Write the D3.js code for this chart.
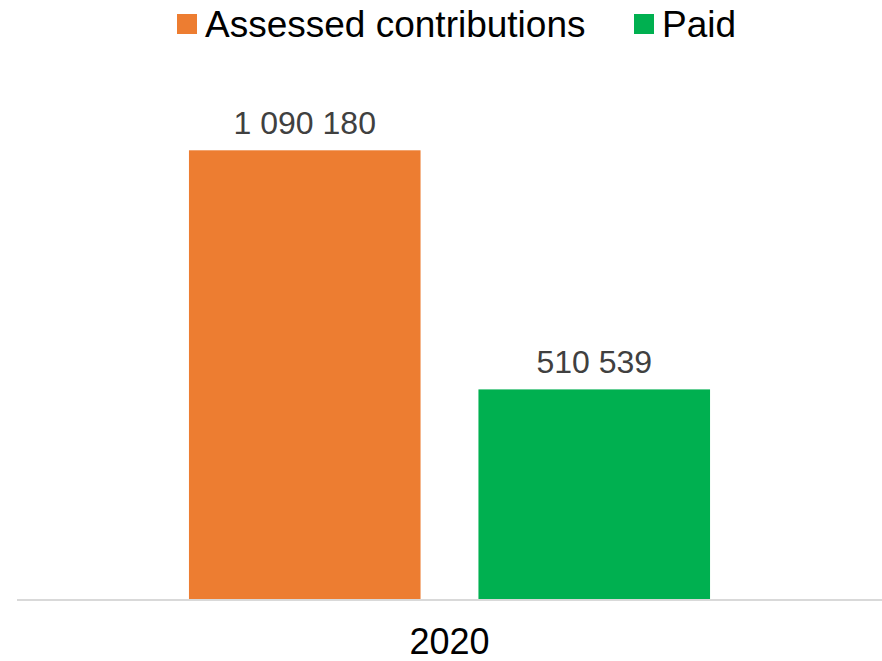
<!DOCTYPE html>
<html>
<head>
<meta charset="utf-8">
<script src="https://cdn.jsdelivr.net/npm/d3@7"></script>
<style>
  html, body { margin: 0; padding: 0; background: #fff; }
  svg { display: block; font-family: "Liberation Sans", Arial, sans-serif; }
</style>
</head>
<body>
<svg id="chart" width="882" height="661"></svg>
<script>
// Chart data
const categories = ["2020"];
const seriesNames = ["Assessed contributions", "Paid"];
const seriesColors = ["#ED7D31", "#00B050"];
const assessedValues = [1090180];
const paidValues = [510539];

const rows = categories.map((c, i) => ({
  category: c,
  values: [
    { name: seriesNames[0], value: assessedValues[i], color: seriesColors[0] },
    { name: seriesNames[1], value: paidValues[i], color: seriesColors[1] }
  ]
}));

const svg = d3.select("#chart");
const plot = { left: 17, right: 882, top: 105, bottom: 600 };

const x0 = d3.scaleBand()
  .domain(categories)
  .range([plot.left, plot.right])
  .paddingInner(0)
  .paddingOuter(0.33);

const x1 = d3.scaleBand()
  .domain(seriesNames)
  .range([0, x0.bandwidth()])
  .paddingInner(0.2)
  .paddingOuter(0);

const y = d3.scaleLinear()
  .domain([0, 1200000])
  .range([plot.bottom, plot.top]);

const fmt = v => d3.format(",")(v).replace(/,/g, " ");

// Bars
const groups = svg.selectAll("g.cat")
  .data(rows)
  .join("g")
  .attr("class", "cat")
  .attr("transform", d => `translate(${x0(d.category)},0)`);

groups.selectAll("rect")
  .data(d => d.values)
  .join("rect")
  .attr("x", d => x1(d.name))
  .attr("y", d => y(d.value))
  .attr("width", x1.bandwidth())
  .attr("height", d => y(0) - y(d.value))
  .attr("fill", d => d.color);

// Value labels
groups.selectAll("text.val")
  .data(d => d.values)
  .join("text")
  .attr("class", "val")
  .attr("x", d => x1(d.name) + x1.bandwidth() / 2)
  .attr("y", d => y(d.value) - 16)
  .attr("text-anchor", "middle")
  .attr("font-size", 32)
  .attr("fill", "#404040")
  .text(d => fmt(d.value));

// Category axis
const xAxis = svg.append("g")
  .attr("transform", `translate(0,${plot.bottom})`)
  .call(d3.axisBottom(x0).tickSize(0).tickPadding(0));
xAxis.select(".domain").attr("stroke", "#d9d9d9").attr("stroke-width", 2)
  .attr("d", `M${plot.left},0H${plot.right}`);
xAxis.selectAll(".tick text")
  .attr("font-size", 36)
  .attr("font-family", "Liberation Sans, Arial, sans-serif")
  .attr("fill", "#000")
  .attr("dy", null)
  .attr("y", 54);

// Legend
const legendItems = [
  { name: seriesNames[0], color: seriesColors[0], x: 177 },
  { name: seriesNames[1], color: seriesColors[1], x: 634 }
];
const legend = svg.append("g");
const li = legend.selectAll("g").data(legendItems).join("g")
  .attr("transform", d => `translate(${d.x},0)`);
li.append("rect")
  .attr("x", 0).attr("y", 14).attr("width", 20).attr("height", 20)
  .attr("fill", d => d.color);
li.append("text")
  .attr("x", 28).attr("y", 37)
  .attr("font-size", 37)
  .attr("fill", "#000")
  .text(d => d.name);
</script>
</body>
</html>
